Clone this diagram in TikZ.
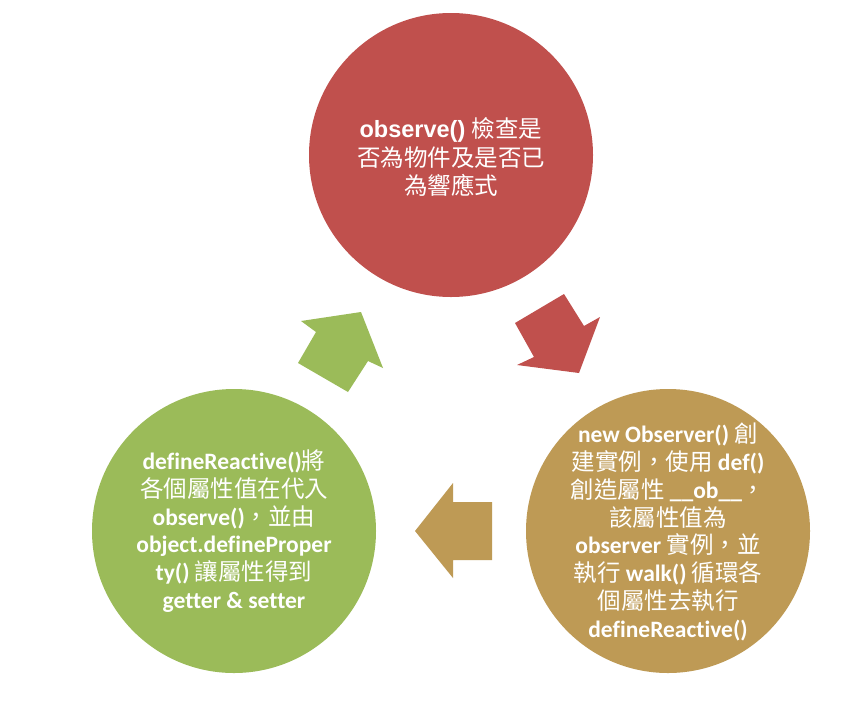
\documentclass[tikz,border=0pt]{standalone}
\usepackage{fontspec}
\setmainfont{Carlito}[Ligatures={NoCommon}]
\newfontfamily\cjkfont{Noto Sans CJK TC}
\newfontfamily\arialfont{Liberation Sans}
\newcommand\zhtxt[1]{{\cjkfont\mdseries #1}}
\definecolor{cred}{HTML}{C0504D}
\definecolor{cgold}{HTML}{BE9A55}
\definecolor{cgreen}{HTML}{9BBB59}
\begin{document}
\begin{tikzpicture}[x=1pt,y=-1pt,
  bubble/.style={circle,minimum size=284pt,inner sep=0pt,draw=none},
  bubbletext/.style={align=center,text=white,inner sep=0pt,font=\fontsize{23.5}{27.8}\selectfont\bfseries},
  blockarrow/.style={draw=none}]
\useasboundingbox (0,0) rectangle (856,705);
\fill[white] (0,0) rectangle (856,705);
% circles
\node[bubble,fill=cred] (c1) at (451,155) {};
\node[bubble,fill=cgold] (c2) at (668,531) {};
\node[bubble,fill=cgreen] (c3) at (234,531) {};
% texts
\node[bubbletext,font=\fontsize{23.5}{28.5}\selectfont\arialfont\bfseries] (t1) at (451,157) {observe() \zhtxt{檢查是}\\\zhtxt{否為物件及是否已}\\\zhtxt{為響應式}};
\node[bubbletext] (t2) at (668,532) {new Observer() \zhtxt{創}\\\zhtxt{建實例，使用} def()\\\zhtxt{創造屬性} \_\_ob\_\_\zhtxt{，}\\\zhtxt{該屬性值為}\\observer \zhtxt{實例，並}\\\zhtxt{執行} walk() \zhtxt{循環各}\\\zhtxt{個屬性去執行}\\defineReactive()};
\node[bubbletext] (t3) at (234,531) {defineReactive()\zhtxt{將}\\\zhtxt{各個屬性值在代入}\\observe()\zhtxt{，並由}\\object.defineProper\\ty() \zhtxt{讓屬性得到}\\getter \& setter};
% block arrows
\fill[cred,blockarrow] (515,323) -- (564,294) -- (584,326) -- (600,317) -- (579,373) -- (517,365) -- (534,357) -- cycle;
\fill[cgold,blockarrow] (415,531) -- (453,483) -- (453,502) -- (492,502) -- (492,560) -- (453,560) -- (453,578) -- cycle;
\fill[cgreen,blockarrow] (301,321) -- (361,312) -- (383,368) -- (368,361) -- (348,392) -- (298,363) -- (316,332) -- cycle;
\end{tikzpicture}
\end{document}
